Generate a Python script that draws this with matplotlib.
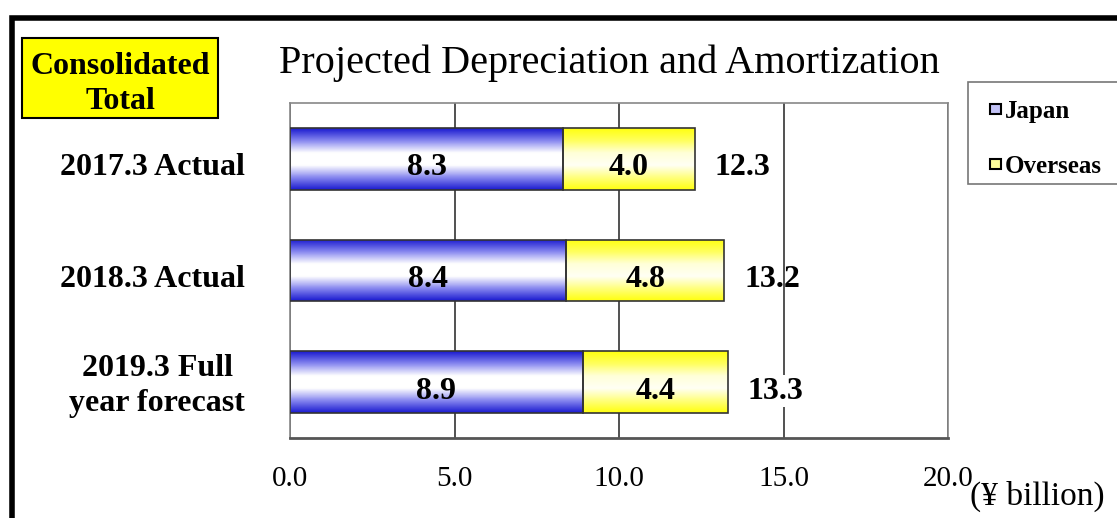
import numpy as np
import matplotlib.pyplot as plt
import matplotlib.transforms as mtransforms
from matplotlib.patches import Rectangle
from matplotlib.colors import LinearSegmentedColormap

plt.rcParams['font.family'] = ['Liberation Serif', 'DejaVu Serif']

categories = ["2017.3 Actual", "2018.3 Actual", "2019.3 Full\nyear forecast"]
japan = [8.3, 8.4, 8.9]
overseas = [4.0, 4.8, 4.4]
totals = [12.3, 13.2, 13.3]
xticks = [0.0, 5.0, 10.0, 15.0, 20.0]

W, H = 1117, 518
fig = plt.figure(figsize=(W / 100, H / 100), dpi=100)

# thick outer frame, right and bottom edges run off the canvas
fig.patches.append(Rectangle((12 / W, -0.05), 1.2, 1 - 18 / H + 0.05,
                             transform=fig.transFigure, fill=False,
                             edgecolor="black", linewidth=4, zorder=0))

ax = fig.add_axes([290 / W, 1 - 438 / H, 658 / W, 335 / H])

blue_cmap = LinearSegmentedColormap.from_list(
    "jp", ["#1c1cd0", "#8a8af0", "#ffffff", "#ffffff", "#8a8af0", "#1c1cd0"])
yellow_cmap = LinearSegmentedColormap.from_list(
    "os", ["#ffff10", "#ffff60", "#ffffd8", "#fffff4", "#ffff80", "#ffff10"])

grad = np.linspace(0, 1, 64).reshape(-1, 1)
h = 0.55


def gradient_bar(x0, width, y, cmap):
    im = ax.imshow(grad, cmap=cmap, aspect="auto",
                   extent=[x0, x0 + width, y + h / 2, y - h / 2], zorder=2)
    rect = Rectangle((x0, y - h / 2), width, h, facecolor="none",
                     edgecolor="#333333", linewidth=1.2, zorder=3)
    ax.add_patch(rect)
    im.set_clip_path(rect)


def shift(pts):
    return mtransforms.ScaledTranslation(0, -pts / 72, fig.dpi_scale_trans)


# nudge text a few points down so digits sit at the bar's middle
lbl = dict(va="center_baseline", fontsize=23, fontweight="bold", zorder=4,
           transform=ax.transData + shift(4))
for i in range(len(categories)):
    gradient_bar(0, japan[i], i, blue_cmap)
    gradient_bar(japan[i], overseas[i], i, yellow_cmap)
    ax.text(japan[i] / 2, i, f"{japan[i]:.1f}", ha="center", **lbl)
    ax.text(japan[i] + overseas[i] / 2, i, f"{overseas[i]:.1f}", ha="center", **lbl)
    box = dict(facecolor="white", edgecolor="none", pad=1) if i == 2 else None
    ax.text(totals[i] + 0.6, i, f"{totals[i]:.1f}", ha="left", bbox=box, **lbl)

ax.set_xlim(0, 20)
ax.set_ylim(2.5, -0.5)
ax.set_xticks(xticks)
ax.set_xticklabels([f"{t:.1f}" for t in xticks], fontsize=21)
ax.tick_params(axis="x", length=0, pad=20)
ax.set_yticks(range(len(categories)))
ax.set_yticklabels([])
ax.tick_params(axis="y", length=0)

# category names to the left of the plot area
cat_tr = mtransforms.blended_transform_factory(ax.transAxes, ax.transData)
for i, name in enumerate(categories):
    off = 4 if "\n" not in name else -2
    ax.text(-45 / 658, i, name, ha="right", va="center_baseline",
            fontsize=23, fontweight="bold", multialignment="center",
            linespacing=1.3, transform=cat_tr + shift(off))

ax.xaxis.grid(True, color="#333333", linewidth=1.2)
ax.set_axisbelow(True)
for name, sp in ax.spines.items():
    sp.set_color("#888888")
    sp.set_linewidth(1.2)
ax.spines["bottom"].set_color("#555555")
ax.spines["bottom"].set_linewidth(2)

fig.text(609 / W, 1 - 63 / H, "Projected Depreciation and Amortization",
         ha="center", va="center", fontsize=29)
fig.text(1037 / W, 1 - 496 / H, "(\u00a5 billion)", ha="center", va="center",
         fontsize=24)

# "Consolidated Total" label box
fig.patches.append(Rectangle((22 / W, 1 - 118 / H), 196 / W, 80 / H,
                             transform=fig.transFigure, facecolor="#ffff00",
                             edgecolor="black", linewidth=1.5, zorder=1))
fig.text(120 / W, 1 - 78 / H, "Consolidated\nTotal", ha="center",
         va="center_baseline", fontsize=23, fontweight="bold",
         linespacing=1.25)

# legend panel
fig.patches.append(Rectangle((968 / W, 1 - 184 / H), 160 / W, 102 / H,
                             transform=fig.transFigure, facecolor="white",
                             edgecolor="#777777", linewidth=1.2, zorder=1))
for ty, cm, lab in [(109, blue_cmap, "Japan"), (164, yellow_cmap, "Overseas")]:
    fig.patches.append(Rectangle((990 / W, 1 - (ty + 5) / H), 11 / W, 10 / H,
                                 transform=fig.transFigure,
                                 facecolor=cm(0.3), edgecolor="black",
                                 linewidth=1.5, zorder=2))
    fig.text(1005 / W, 1 - ty / H, lab, ha="left", va="center_baseline",
             fontsize=18, fontweight="bold")

fig.savefig("out.png", dpi=100)
